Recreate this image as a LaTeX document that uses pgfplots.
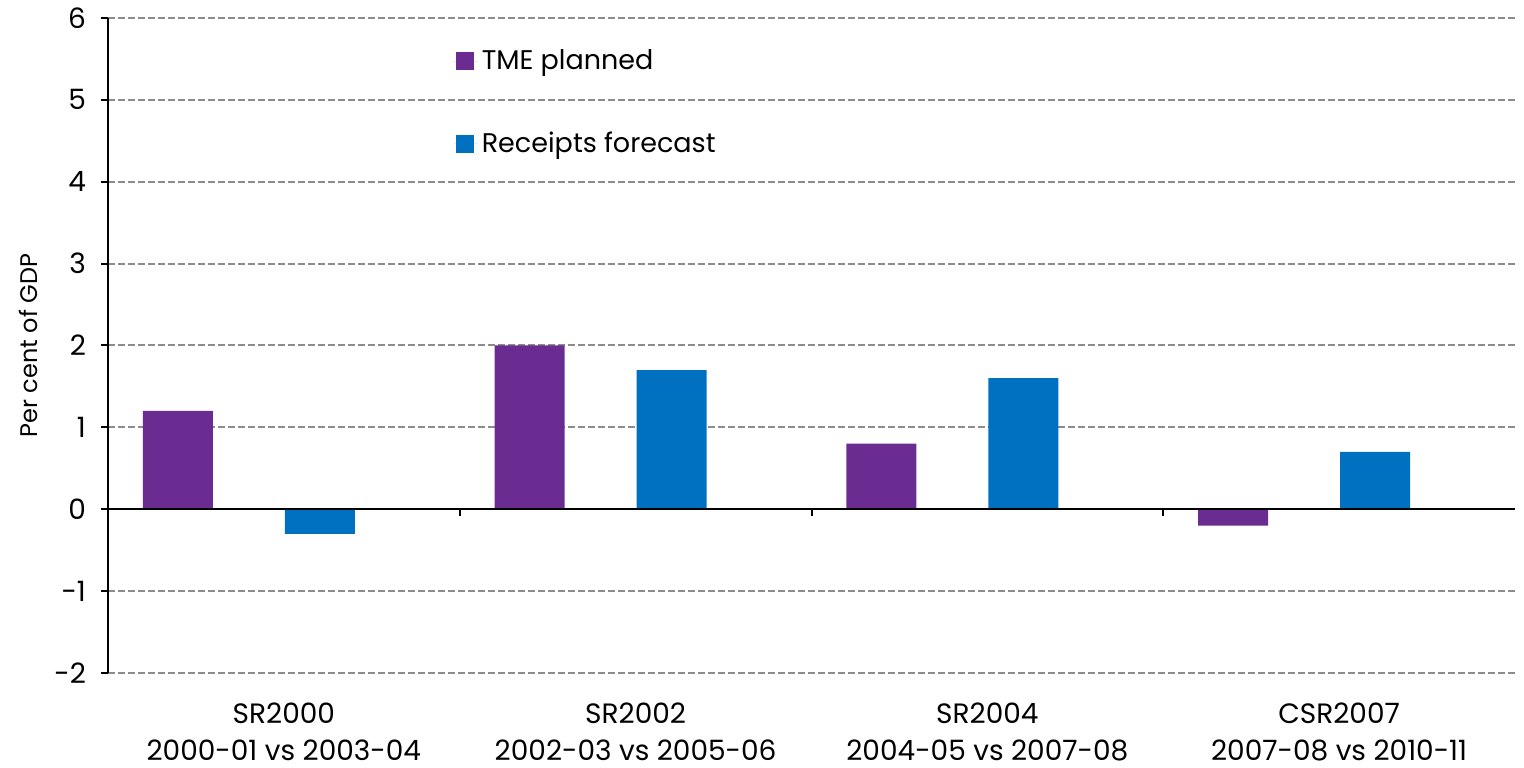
\documentclass[border=0pt]{standalone}
\usepackage{fontspec}
\setmainfont{Poppins}
\usepackage{pgfplots}
\pgfplotsset{compat=1.18}
\definecolor{tmepurple}{HTML}{6B2C91}
\definecolor{rcptblue}{HTML}{0070C0}
\definecolor{gridgray}{HTML}{8C8C8C}
\begin{document}
\begin{tikzpicture}
\begin{axis}[
    scale only axis,
    width=703.5pt, height=327.5pt,
    xmin=-0.5, xmax=3.5,
    ymin=-2, ymax=6,
    ytick={-2,-1,...,6},
    yticklabels={-2,-1,0,1,2,3,4,5,6},
    xtick={0,1,2,3},
    xticklabels={{SR2000\\2000-01 vs 2003-04},{SR2002\\2002-03 vs 2005-06},{SR2004\\2004-05 vs 2007-08},{CSR2007\\2007-08 vs 2010-11}},
    axis x line*=bottom,
    axis y line*=left,
    x axis line style={draw=none},
    y axis line style={black, line width=1pt, -},
    major x tick style={draw=none},
    major y tick style={black, line width=1pt},
    tick align=outside,
    major tick length=3.5pt,
    ymajorgrids,
    major grid style={gridgray, line width=1pt, dash pattern=on 3.5pt off 1.5pt},
    ticklabel style={font=\fontsize{14}{18.5}\selectfont},
    xticklabel style={align=center, anchor=north, yshift=-8pt},
    yticklabel style={xshift=-4pt},
    ylabel={Per cent of GDP},
    ylabel style={font=\fontsize{12}{14}\selectfont, at={(axis description cs:-0.0565,0.5)}, anchor=center, rotate=0},
    ybar,
    bar width=35pt,
    legend style={at={(axis description cs:0.2455,0.958)}, anchor=north west,
        draw=none, fill=none, inner sep=0pt, row sep=25.5pt,
        font=\fontsize{13.5}{15}\selectfont},
    legend cell align=left,
    legend image code/.code={\fill[#1] (1pt,-4.5pt) rectangle (10pt,4.5pt); \path (0pt,0pt) -- (12pt,0pt);},
]
\addplot[fill=tmepurple, draw=none, bar shift=-53pt] coordinates {(0,1.2) (1,2.0) (2,0.8) (3,-0.2)};
\addplot[fill=rcptblue, draw=none, bar shift=18pt] coordinates {(0,-0.3) (1,1.7) (2,1.6) (3,0.7)};
\legend{TME planned, Receipts forecast}
\draw[black, line width=1pt] (axis cs:-0.5,0) -- (axis cs:3.5,0);
\draw[black, line width=1pt] (axis cs:0.5,0) -- ([yshift=-3.5pt]axis cs:0.5,0);
\draw[black, line width=1pt] (axis cs:1.5,0) -- ([yshift=-3.5pt]axis cs:1.5,0);
\draw[black, line width=1pt] (axis cs:2.5,0) -- ([yshift=-3.5pt]axis cs:2.5,0);
\end{axis}
\path ([shift={(-54pt,-44pt)}]current axis.south west) rectangle ([shift={(4.5pt,9pt)}]current axis.north east);
\end{tikzpicture}
\end{document}
